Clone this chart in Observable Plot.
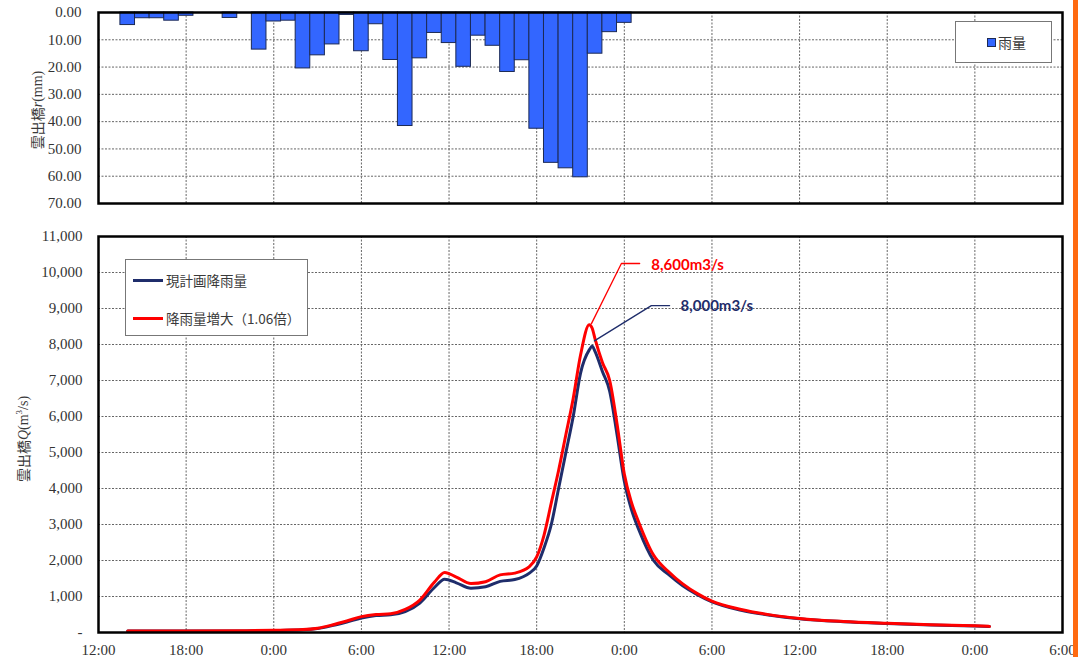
<!DOCTYPE html>
<html><head><meta charset="utf-8">
<script src="https://cdn.jsdelivr.net/npm/d3@7"></script>
<script src="https://cdn.jsdelivr.net/npm/@observablehq/plot@0.6"></script>
<style>
body{margin:0;background:#fff;}
#wrap{position:relative;width:1080px;height:657px;overflow:hidden;background:#fff;}
#wrap svg.panel{position:absolute;left:0;font-family:"Liberation Serif","Times New Roman",serif !important;font-size:15px !important;}
.legend{position:absolute;background:#fff;border:1px solid #777;box-sizing:border-box;font-family:"Noto Sans CJK JP",sans-serif;color:#3a3a3a;}
.orange{position:absolute;left:1073px;top:0;width:5px;height:657px;background:#FF6A10;}
</style></head><body><div id="wrap"></div>
<script>
// ---- data ----
// hourly rainfall (hours counted from 12:00 of day 1; bar centred on the hour)
const rainHours = [2,3,4,5,6,7,8,9,10,11,12,13,14,15,16,17,18,19,20,21,22,23,24,25,26,27,28,29,30,31,32,33,34,35,36];
const rainfall  = [4.6,2.1,2.1,3.0,1.2,0,0,2.0,0,13.6,3.3,3.0,20.5,15.7,11.7,0.9,14.2,4.3,17.4,41.6,16.8,7.5,11.2,19.9,8.5,12.2,21.8,17.5,42.6,55.1,57.1,60.4,15.1,7.2,3.8];

// discharge hydrographs (m3/s)
const flowHours = [2,6,10,12,14,15,16,17,18,19,20,21,22,23,23.7,24.5,25.5,26.5,27.5,28.5,29.5,30,30.5,31,31.5,32,32.5,33,33.6,33.8,34,34.5,35,35.5,36,36.5,37,38,39,40,41,42,44,46,48,51,54,57,60,61];
const planFlow  = [40,40,45,55,75,110,190,290,400,470,490,580,820,1250,1480,1380,1230,1270,1420,1470,1650,1850,2350,3000,4000,5000,6000,7200,7850,7950,7800,7250,6700,5500,4200,3400,2850,2000,1620,1300,1050,850,620,480,380,300,250,210,180,165];
const upFlow    = [40,40,50,60,80,120,210,320,440,500,520,640,900,1400,1670,1540,1360,1410,1600,1650,1830,2100,2700,3600,4500,5500,6500,7700,8550,8450,8150,7500,7000,5800,4400,3600,3050,2150,1700,1350,1080,870,640,490,390,305,255,215,185,170];

const seriesNames = ["現計画降雨量", "降雨量増大（1.06倍）"];
const seriesColors = ["#1F2D6B", "#FF0000"];
const rainName = "雨量";

const timeLabels = ["12:00","18:00","0:00","6:00"];
const xTicks = d3.range(0, 67, 6);
const rainTicks = d3.range(0, 71, 10);
const flowTicks = d3.range(0, 11001, 1000);

// peak annotations: leader-line points [hour, m3/s] and label anchor
const annoText = ["8,600m3/s", "8,000m3/s"];
const annoLeader = [
  [[33.75, 8580], [35.8, 10250], [37.05, 10250]],
  [[33.95, 8100], [37.85, 9080], [39.1, 9080]]
];
const annoPos = [[37.85, 10200], [39.85, 9060]];

// ---- drawing ----
const wrap = document.getElementById("wrap");
const fmtTime = h => timeLabels[Math.round(h / 6) % 4];
const serif = "Liberation Serif";
const gridStyle = {stroke: "#666", strokeOpacity: 1, strokeWidth: 1, strokeDasharray: "2,1.5"};
const baseStyle = {fontFamily: serif, fontSize: "15px", color: "#333", background: "transparent", overflow: "visible"};

const rainData = rainHours.map((h, i) => ({h, r: rainfall[i]})).filter(d => d.r > 0);

const topPlot = Plot.plot({
  width: 1080, height: 215,
  marginLeft: 98, marginRight: 18, marginTop: 12, marginBottom: 12,
  style: baseStyle,
  x: {domain: [0, 66], axis: null},
  y: {domain: [0, 70], reverse: true, axis: null},
  marks: [
    Plot.gridY(rainTicks.slice(1, -1), gridStyle),
    Plot.gridX(xTicks.slice(1, -1), gridStyle),
    Plot.rect(rainData, {x1: d => d.h - 0.5, x2: d => d.h + 0.5, y1: () => 0, y2: "r", fill: "#3366FF", stroke: "#1c2a55", strokeWidth: 1}),
    Plot.axisY(rainTicks, {tickSize: 0, tickPadding: 17, tickFormat: d3.format(".2f"), label: null, fontFamily: serif, fontSize: 15}),
    Plot.frame({stroke: "#000", strokeWidth: 2.5})
  ]
});
topPlot.classList.add("panel");
topPlot.style.top = "0px";
wrap.appendChild(topPlot);

const planData = flowHours.map((h, i) => ({h, q: planFlow[i]}));
const upData = flowHours.map((h, i) => ({h, q: upFlow[i]}));
const annoData = annoText.map((t, i) => ({t, h: annoPos[i][0], q: annoPos[i][1], c: seriesColors[1 - i]}));

const botPlot = Plot.plot({
  width: 1080, height: 442,
  marginLeft: 98, marginRight: 18, marginTop: 21, marginBottom: 25,
  style: baseStyle,
  x: {domain: [0, 66], axis: null},
  y: {domain: [0, 11000], axis: null},
  marks: [
    Plot.gridY(flowTicks.slice(1, -1), gridStyle),
    Plot.gridX(xTicks.slice(1, -1), gridStyle),
    Plot.line(planData, {x: "h", y: "q", stroke: seriesColors[0], strokeWidth: 3, curve: "monotone-x"}),
    Plot.line(upData, {x: "h", y: "q", stroke: seriesColors[1], strokeWidth: 3, curve: "monotone-x"}),
    Plot.line(annoLeader[0], {x: d => d[0], y: d => d[1], stroke: seriesColors[1], strokeWidth: 1.3}),
    Plot.line(annoLeader[1], {x: d => d[0], y: d => d[1], stroke: seriesColors[0], strokeWidth: 1.3}),
    Plot.text(annoData, {x: "h", y: "q", text: "t", fill: "c", textAnchor: "start", fontFamily: "Lato, sans-serif", fontWeight: "bold", fontSize: 15}),
    Plot.axisY(flowTicks, {tickSize: 0, tickPadding: 16, tickFormat: d => d === 0 ? "-" : d3.format(",")(d), label: null, fontFamily: serif, fontSize: 15}),
    Plot.axisX(xTicks, {tickSize: 0, tickPadding: 12, tickFormat: fmtTime, label: null, fontFamily: serif, fontSize: 15}),
    Plot.frame({stroke: "#000", strokeWidth: 2.5})
  ]
});
botPlot.classList.add("panel");
botPlot.style.top = "215px";
wrap.appendChild(botPlot);

// y-axis titles
function addTitle(svg, x, y, parts) {
  const t = d3.select(svg).append("text")
    .attr("transform", `translate(${x},${y}) rotate(-90)`)
    .attr("text-anchor", "middle").attr("dominant-baseline", "middle")
    .attr("fill", "#3a3a3a").attr("font-size", 14);
  parts.forEach(p => {
    const s = t.append("tspan").text(p.t).attr("font-family", p.f || serif);
    if (p.i) s.attr("font-style", "italic");
    if (p.sup) s.attr("font-size", 9).attr("dy", -5);
    if (p.down) s.attr("dy", 5);
  });
}
addTitle(topPlot, 39, 110, [{t: "雲出橋", f: "Noto Sans CJK JP"}, {t: "r", i: true}, {t: "(mm)"}]);
addTitle(botPlot, 25, 224, [{t: "雲出橋", f: "Noto Sans CJK JP"}, {t: "Q", i: true}, {t: "(m"}, {t: "3", sup: true}, {t: "/s)", down: true}]);

// legends
const lg1 = document.createElement("div");
lg1.className = "legend";
Object.assign(lg1.style, {left: "955px", top: "21px", width: "97px", height: "42px"});
lg1.innerHTML = `<div style="position:absolute;left:31px;top:16px;width:7px;height:7px;background:#3366FF;border:1px solid #1c2a55;"></div>
<div style="position:absolute;left:42px;top:10px;font-size:14px;line-height:20px;">${rainName}</div>`;
wrap.appendChild(lg1);

const lg2 = document.createElement("div");
lg2.className = "legend";
Object.assign(lg2.style, {left: "125px", top: "259px", width: "183px", height: "77px"});
lg2.innerHTML = seriesNames.map((n, i) => `
<div style="position:absolute;left:7px;top:${19 + i * 38}px;width:30px;height:3px;background:${seriesColors[i]};"></div>
<div style="position:absolute;left:40px;top:${10 + i * 38}px;font-size:13.5px;line-height:20px;white-space:nowrap;">${n}</div>`).join("");
wrap.appendChild(lg2);

const orange = document.createElement("div");
orange.className = "orange";
wrap.appendChild(orange);
</script>
</body></html>
